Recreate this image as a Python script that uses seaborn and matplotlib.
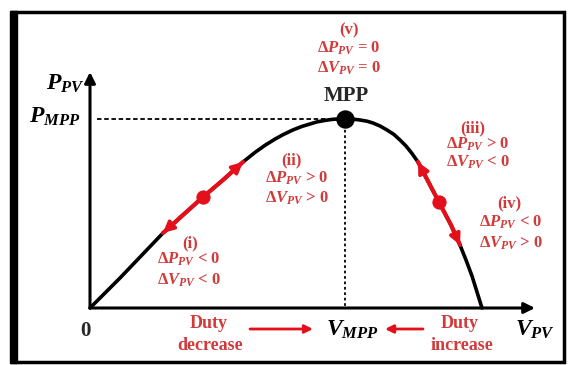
import matplotlib
matplotlib.use("Agg")
import matplotlib.pyplot as plt
import seaborn as sns
import pandas as pd
from matplotlib.patches import Rectangle

# P-V curve of the PV array (arbitrary units, origin at 0)
v_pv = [0, 30, 73, 93, 113, 133, 153, 165, 175, 185, 193, 203, 212, 220,
        227, 235, 242, 249, 255, 262, 270, 277, 283, 290, 297, 304, 310,
        316, 322, 328, 340, 351, 361, 370, 376, 382, 387, 392]
p_pv = [0, 30, 75, 93, 111, 128, 146, 155.6, 162.7, 168.9, 173.3, 178.1,
        181.6, 184, 186.1, 187.6, 188.6, 189.1, 189.3, 189, 188, 186.8,
        185, 182, 178, 173.5, 168, 162, 154.5, 146, 123, 102, 83, 63,
        48, 32, 16, 0]

# operating point perturbations (red segments) and their middle dots
left_v = [73, 93, 113, 133, 153]
left_p = [75, 93, 111, 128, 146]
right_v = [328, 340, 351, 361, 370]
right_p = [146, 123, 102, 83, 63]
dot_v = [113, 349]
dot_p = [111, 106]

v_mpp = 255
p_mpp = 189
v_axis_max = 445
p_axis_max = 236

RED = "#e3101c"
TXT_RED = "#d23a3a"

sns.set_theme(style="white")
plt.rcParams["font.family"] = ["Liberation Serif", "DejaVu Serif"]
plt.rcParams["mathtext.fontset"] = "custom"
plt.rcParams["mathtext.rm"] = "Liberation Serif:bold"
plt.rcParams["mathtext.it"] = "Liberation Serif:italic:bold"
plt.rcParams["mathtext.bf"] = "Liberation Serif:bold"

fig = plt.figure(figsize=(5.72, 3.65), dpi=100)
ax = fig.add_axes([0, 0, 1, 1])
ax.set_xlim(-90, 482)
ax.set_ylim(-57, 308)
ax.axis("off")

# outer frame
fig.patches.append(Rectangle((12 / 572, 3 / 365), 552 / 572, 350 / 365,
                             transform=fig.transFigure, fill=False,
                             edgecolor="black", lw=2.5))
fig.patches.append(Rectangle((10 / 572, 2 / 365), 7 / 572, 352 / 365,
                             transform=fig.transFigure, color="black"))

# axes with arrows
arrow_kw = dict(arrowstyle="-|>", color="black", lw=2.2, mutation_scale=16,
                shrinkA=0, shrinkB=0)
ax.annotate("", xy=(v_axis_max, 0), xytext=(0, 0), arrowprops=arrow_kw)
ax.annotate("", xy=(0, p_axis_max), xytext=(0, 0), arrowprops=arrow_kw)

# MPP guide lines
ax.plot([7, v_mpp], [p_mpp, p_mpp], color="black", lw=1.3, ls=(0, (2.5, 1.5)))
ax.plot([v_mpp, v_mpp], [p_mpp, 0], color="black", lw=1.3, ls=(0, (1.5, 1.5)))

# curve
curve = pd.DataFrame({"V": v_pv, "P": p_pv})
sns.lineplot(data=curve, x="V", y="P", sort=False, color="black", lw=2.6,
             ax=ax, zorder=3)

# red perturbation segments with arrowheads at both ends
red_kw = dict(arrowstyle="-|>", color=RED, lw=2.5, mutation_scale=16,
              shrinkA=0, shrinkB=0)
for sv, sp in [(left_v, left_p), (right_v, right_p)]:
    sns.lineplot(x=sv, y=sp, sort=False, color=RED, lw=3, ax=ax, zorder=4)
    ax.annotate("", xy=(sv[0], sp[0]), xytext=(sv[1], sp[1]),
                arrowprops=red_kw, zorder=5)
    ax.annotate("", xy=(sv[-1], sp[-1]), xytext=(sv[-2], sp[-2]),
                arrowprops=red_kw, zorder=5)
sns.scatterplot(x=dot_v, y=dot_p, color=RED, s=90, edgecolor=RED, ax=ax,
                zorder=6)
sns.scatterplot(x=[v_mpp], y=[p_mpp], color="black", s=150, edgecolor="black",
                ax=ax, zorder=6)

# labels
big = dict(fontsize=17, ha="center", va="center", color="black")
ax.text(-25, 224, r"$P_{PV}$", **big)
ax.text(-35, 191, r"$P_{MPP}$", **big)
ax.text(262, -22, r"$V_{MPP}$", **big)
ax.text(445, -22, r"$V_{PV}$", **big)
ax.text(-5, -23, "0", fontsize=15, fontweight="bold", ha="center",
        va="center")
ax.text(256, 212, "MPP", fontsize=15, fontweight="bold", ha="center",
        va="center")

red = dict(fontsize=12, fontweight="bold", ha="center", va="center",
           color=TXT_RED, linespacing=1.15)
ax.text(259, 278, "(v)", **red)
ax.text(259, 260, r"$\Delta P_{PV}$ = 0", **red)
ax.text(259, 240, r"$\Delta V_{PV}$ = 0", **red)
ax.text(201, 148, "(ii)", **red)
ax.text(207, 130, r"$\Delta P_{PV}$ > 0", **red)
ax.text(207, 110, r"$\Delta V_{PV}$ > 0", **red)
ax.text(383, 180, "(iii)", **red)
ax.text(388, 164, r"$\Delta P_{PV}$ > 0", **red)
ax.text(388, 146, r"$\Delta V_{PV}$ < 0", **red)
ax.text(419, 105, "(iv)", **red)
ax.text(421, 86, r"$\Delta P_{PV}$ < 0", **red)
ax.text(421, 65, r"$\Delta V_{PV}$ > 0", **red)
ax.text(100, 65, "(i)", **red)
ax.text(99, 49, r"$\Delta P_{PV}$ < 0", **red)
ax.text(99, 28, r"$\Delta V_{PV}$ < 0", **red)

duty = dict(fontsize=13, fontweight="bold", ha="center", va="center",
            color=TXT_RED)
ax.text(119, -15, "Duty", **duty)
ax.text(120, -37, "decrease", **duty)
ax.text(370, -15, "Duty", **duty)
ax.text(372, -37, "increase", **duty)

duty_kw = dict(arrowstyle="-|>", color=RED, lw=2, mutation_scale=12,
               shrinkA=0, shrinkB=0)
ax.annotate("", xy=(223, -21), xytext=(160, -21), arrowprops=duty_kw)
ax.annotate("", xy=(295, -21), xytext=(333, -21), arrowprops=duty_kw)

fig.savefig("out.png", dpi=100)
